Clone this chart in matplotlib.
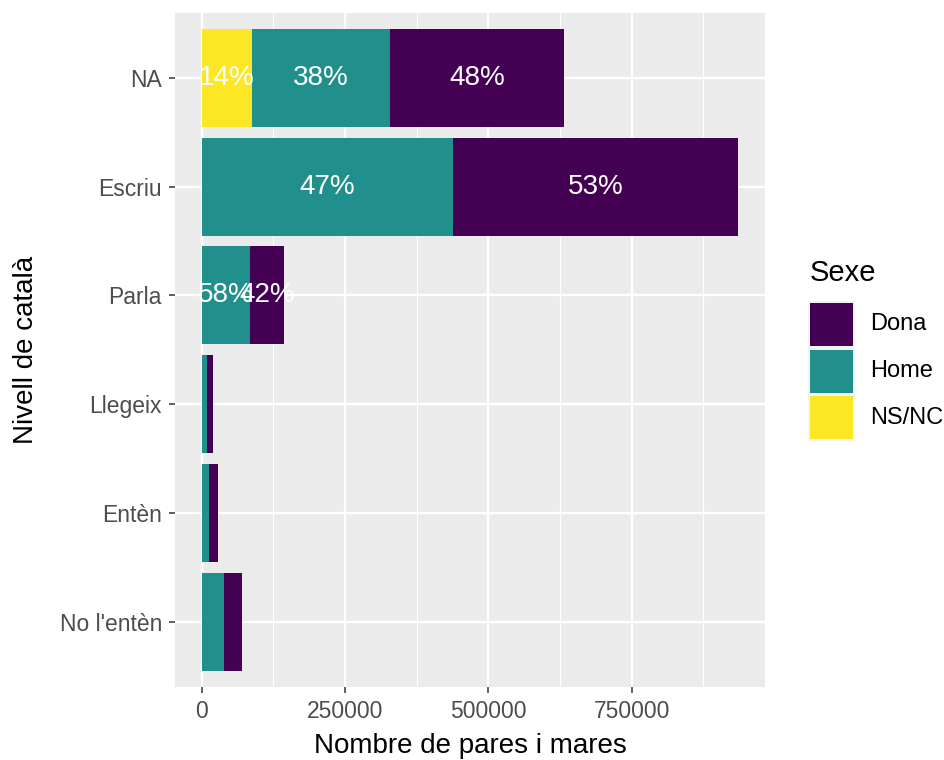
import matplotlib
matplotlib.use("Agg")
import matplotlib.pyplot as plt
from matplotlib.patches import Rectangle
import numpy as np

plt.rcParams['font.family'] = ['Liberation Sans', 'DejaVu Sans']

categories = ["No l'entèn", "Entèn", "Llegeix", "Parla", "Escriu", "NA"]
nsnc = [0, 0, 0, 0, 0, 88000]
home = [38400, 13300, 9800, 84300, 438000, 240000]
dona = [32000, 14700, 10500, 59900, 498000, 304000]
labelled = ["Parla", "Escriu", "NA"]
xticks = [0, 250000, 500000, 750000]
series_names = ["Dona", "Home", "NS/NC"]
colors = {"Dona": "#440154", "Home": "#21908C", "NS/NC": "#FDE725"}

W, H = 945, 760
fig = plt.figure(figsize=(W / 100, H / 100), dpi=100)
ax = fig.add_axes([0.1852, 0.096, 0.8095 - 0.1852, 0.9834 - 0.096])
ax.set_facecolor("#EBEBEB")

y = np.arange(len(categories))
ns = np.array(nsnc, float)
hm = np.array(home, float)
dn = np.array(dona, float)
tot = ns + hm + dn

ax.barh(y, ns, height=0.9, color=colors["NS/NC"], zorder=3)
ax.barh(y, hm, left=ns, height=0.9, color=colors["Home"], zorder=3)
ax.barh(y, dn, left=ns + hm, height=0.9, color=colors["Dona"], zorder=3)

for i, c in enumerate(categories):
    if c not in labelled:
        continue
    starts = [0, ns[i], ns[i] + hm[i]]
    vals = [ns[i], hm[i], dn[i]]
    for s, v in zip(starts, vals):
        if v <= 0:
            continue
        ax.text(s + v / 2, y[i], f"{round(100 * v / tot[i])}%", ha="center",
                va="center", color="white", fontsize=20, zorder=4)

xmax = tot.max()
ax.set_xlim(-0.05 * xmax, 1.05 * xmax)
ax.set_ylim(-0.6, len(categories) - 0.4)

ax.set_xticks(xticks)
ax.set_xticklabels([str(t) for t in xticks])
ax.set_xticks([125000, 375000, 625000, 875000], minor=True)
ax.set_yticks(y)
ax.set_yticklabels(categories)

ax.grid(which="major", color="white", linewidth=1.7, zorder=0)
ax.grid(which="minor", axis="x", color="white", linewidth=0.85, zorder=0)
ax.set_axisbelow(True)
for sp in ax.spines.values():
    sp.set_visible(False)
ax.tick_params(axis="both", which="major", length=4.4, width=1.1, color="#333333",
               labelcolor="#4D4D4D", labelsize=16.5, pad=5)
ax.tick_params(axis="both", which="minor", length=0)

ax.set_xlabel("Nombre de pares i mares", fontsize=20, color="black", labelpad=7)
ax.set_ylabel("Nivell de català", fontsize=20, color="black", labelpad=15)

# legend (ggplot-style guide), positioned in figure pixels
def fx(px):
    return px / W

def fy(py):
    return 1 - py / H

fig.text(fx(810), fy(273), "Sexe", fontsize=21, color="black", ha="left", va="center")
key_w, key_h, step, top0 = 43, 43, 46.7, 303
for k, name in enumerate(series_names):
    t = top0 + k * step
    fig.add_artist(Rectangle((fx(808), fy(t + key_h + 2)), fx(47), (key_h + 4) / H,
                             transform=fig.transFigure, facecolor="#F2F2F2",
                             edgecolor="none"))
    fig.add_artist(Rectangle((fx(810), fy(t + key_h)), fx(key_w), key_h / H,
                             transform=fig.transFigure, facecolor=colors[name],
                             edgecolor="none"))
    fig.text(fx(870), fy(t + key_h / 2), name, fontsize=17, color="black",
             ha="left", va="center")

fig.savefig("out.png", dpi=100)
